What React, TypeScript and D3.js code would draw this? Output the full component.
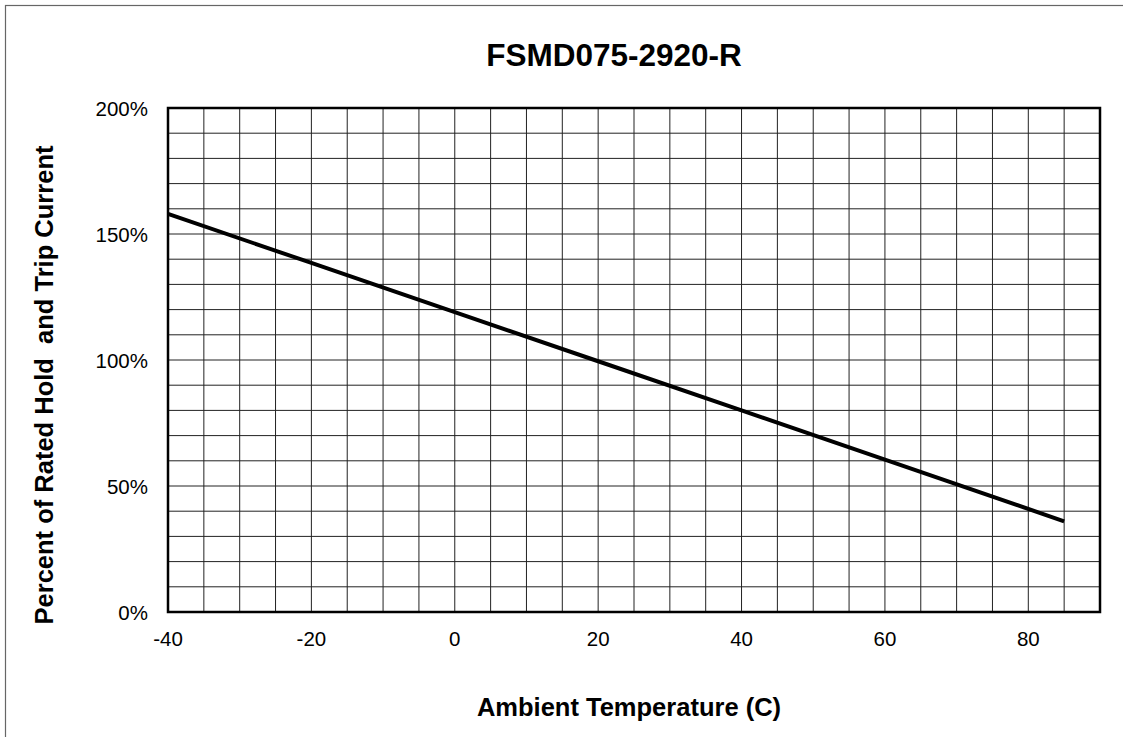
import * as d3 from "d3";

const temps = [-40, -20, 0, 20, 40, 60, 85];
const percents = [158, 138.5, 119, 99.5, 80, 60.5, 36];
const xTicks = [-40, -20, 0, 20, 40, 60, 80];
const yTicks = [0, 50, 100, 150, 200];

const W = 1123;
const H = 737;
const margin = { top: 108, right: 23, bottom: 125, left: 168 };
const font = "'Liberation Sans', Arial, sans-serif";

export default function App() {
  const x = d3.scaleLinear().domain([-40, 90]).range([margin.left, W - margin.right]);
  const y = d3.scaleLinear().domain([0, 200]).range([H - margin.bottom, margin.top]);

  const xGrid = d3.range(-40, 91, 5);
  const yGrid = d3.range(0, 201, 10);

  const line = d3
    .line<number>()
    .x((_, i) => x(temps[i]))
    .y((d) => y(d));

  return (
    <div style={{ position: "fixed", left: 0, top: 0 }}>
      <svg width={W} height={H} style={{ display: "block", background: "#fff" }}>
        <rect x={5.5} y={5.5} width={W + 10} height={H + 10} fill="none" stroke="#666" strokeWidth={1.2} />

        <text x={614} y={66} textAnchor="middle" fontFamily={font} fontWeight="bold" fontSize={31.5}>
          FSMD075-2920-R
        </text>

        {/* grid */}
        {xGrid.map((t) => (
          <line key={"gx" + t} x1={x(t)} x2={x(t)} y1={y(0)} y2={y(200)} stroke="#222" strokeWidth={1} />
        ))}
        {yGrid.map((t) => (
          <line key={"gy" + t} x1={x(-40)} x2={x(90)} y1={y(t)} y2={y(t)} stroke="#222" strokeWidth={1} />
        ))}

        <rect
          x={x(-40)}
          y={y(200)}
          width={x(90) - x(-40)}
          height={y(0) - y(200)}
          fill="none"
          stroke="#000"
          strokeWidth={2.5}
        />

        <path d={line(percents) ?? ""} fill="none" stroke="#000" strokeWidth={4} />

        {/* tick labels */}
        {yTicks.map((t) => (
          <text key={"yt" + t} x={148} y={y(t) + 8} textAnchor="end" fontFamily={font} fontSize={20.5}>
            {t}%
          </text>
        ))}
        {xTicks.map((t) => (
          <text key={"xt" + t} x={x(t)} y={646} textAnchor="middle" fontFamily={font} fontSize={20.5}>
            {t}
          </text>
        ))}

        <text x={629} y={716} textAnchor="middle" fontFamily={font} fontWeight="bold" fontSize={25.5}>
          Ambient Temperature (C)
        </text>
        <text
          transform="translate(53,385) rotate(-90)"
          textAnchor="middle"
          fontFamily={font}
          fontWeight="bold"
          fontSize={25.5}
          style={{ whiteSpace: "pre" }}
        >
          Percent of Rated Hold  and Trip Current
        </text>
      </svg>
    </div>
  );
}
